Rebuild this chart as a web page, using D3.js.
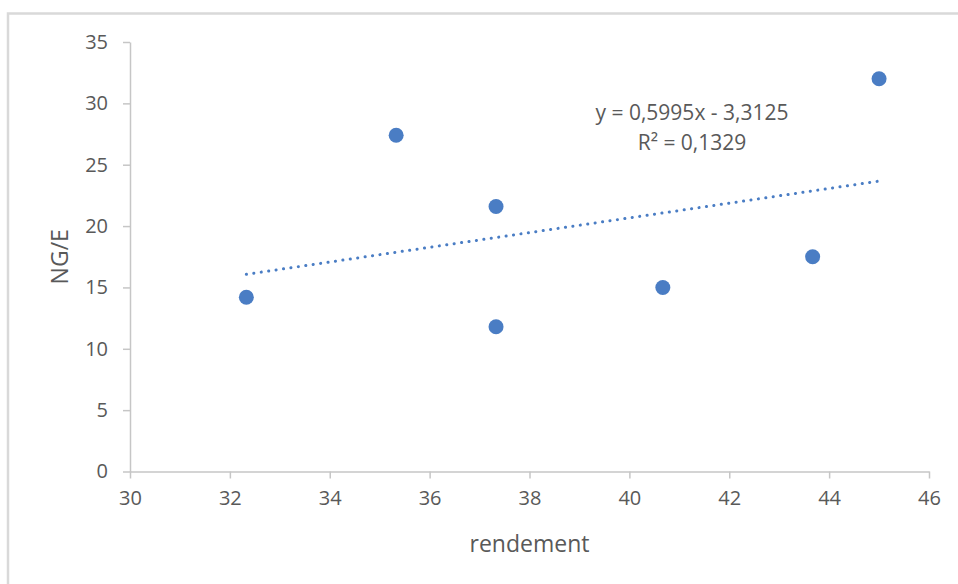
<!DOCTYPE html>
<html>
<head>
<meta charset="utf-8">
<script src="https://cdn.jsdelivr.net/npm/d3@7"></script>
<style>
  body { margin: 0; background: #fff; }
  text { font-family: "Open Sans", "Liberation Sans", sans-serif; fill: #595959; }
</style>
</head>
<body>
<svg id="chart" width="958" height="584"></svg>
<script>
"use strict";

// values
const rendement = [32.33, 35.33, 37.33, 37.33, 40.67, 43.67, 45.0];
const ngE = [14.2, 27.4, 21.6, 11.8, 15.0, 17.5, 32.0];
const xTicks = [30, 32, 34, 36, 38, 40, 42, 44, 46];
const yTicks = [0, 5, 10, 15, 20, 25, 30, 35];
const trendCoef = [0.5995, -3.3125]; // slope, intercept
const trendLabel = ["y = 0,5995x - 3,3125", "R² = 0,1329"];

const svg = d3.select("#chart");
const dims = { left: 130, right: 929, top: 42, bottom: 471.5 };
const blue = "#4a7dc4";
const axisColor = "#c6c6c6";

// outer frame (top and left edges only are visible)
svg.append("path")
  .attr("d", "M8,584 L8,13.5 L958,13.5")
  .attr("fill", "none")
  .attr("stroke", "#d9d9d9")
  .attr("stroke-width", 2.5);

const x = d3.scaleLinear().domain([30, 46]).range([dims.left, dims.right]);
const y = d3.scaleLinear().domain([0, 35]).range([dims.bottom, dims.top]);

const xAxis = svg.append("g")
  .attr("transform", `translate(0,${dims.bottom})`)
  .call(d3.axisBottom(x).tickValues(xTicks).tickSize(7).tickPadding(12).tickSizeOuter(0));

const yAxis = svg.append("g")
  .attr("transform", `translate(${dims.left},0)`)
  .call(d3.axisLeft(y).tickValues(yTicks).tickSize(7).tickPadding(15).tickSizeOuter(0));

[xAxis, yAxis].forEach((g) => {
  g.select(".domain").attr("stroke", axisColor).attr("stroke-width", 1.5);
  g.selectAll(".tick line").attr("stroke", axisColor).attr("stroke-width", 1.5);
  g.selectAll(".tick text")
    .attr("fill", "#595959")
    .style("font-size", "20px")
    .style("font-family", "'Open Sans', 'Liberation Sans', sans-serif");
});

// trend line (dotted)
const xs = d3.extent(rendement);
svg.append("line")
  .attr("x1", x(xs[0]))
  .attr("y1", y(trendCoef[0] * xs[0] + trendCoef[1]))
  .attr("x2", x(xs[1]))
  .attr("y2", y(trendCoef[0] * xs[1] + trendCoef[1]))
  .attr("stroke", blue)
  .attr("stroke-width", 3)
  .attr("stroke-linecap", "round")
  .attr("stroke-dasharray", "0.1 7.4");

// points
svg.append("g")
  .selectAll("circle")
  .data(d3.zip(rendement, ngE))
  .join("circle")
  .attr("cx", (d) => x(d[0]))
  .attr("cy", (d) => y(d[1]))
  .attr("r", 7.5)
  .attr("fill", blue);

// equation label
svg.append("g")
  .selectAll("text")
  .data(trendLabel)
  .join("text")
  .attr("x", 692)
  .attr("y", (d, i) => 120 + i * 30)
  .attr("text-anchor", "middle")
  .style("font-size", "21px")
  .text((d) => d);

// axis titles
svg.append("text")
  .attr("x", (dims.left + dims.right) / 2)
  .attr("y", 552)
  .attr("text-anchor", "middle")
  .style("font-size", "23px")
  .text("rendement");

svg.append("text")
  .attr("transform", `translate(68,${(dims.top + dims.bottom) / 2}) rotate(-90)`)
  .attr("text-anchor", "middle")
  .style("font-size", "23px")
  .text("NG/E");
</script>
</body>
</html>
